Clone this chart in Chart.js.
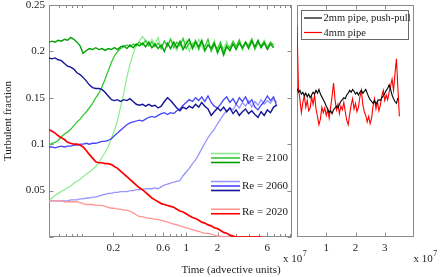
<!DOCTYPE html>
<html>
<head>
<meta charset="utf-8">
<script src="https://cdn.jsdelivr.net/npm/chart.js@4.4.0/dist/chart.umd.min.js"></script>
<style>
  html, body { margin: 0; padding: 0; background: #fff; }
  #wrap { position: relative; width: 440px; height: 277px; overflow: hidden; }
  canvas { position: absolute; top: 0; }
  #left { left: 0; }
  #right { left: 290px; }
</style>
</head>
<body>
<div id="wrap">
  <canvas id="left" width="310" height="277" style="width:310px;height:277px"></canvas>
  <canvas id="right" width="150" height="277" style="width:150px;height:277px"></canvas>
</div>
<script>
// ---- left panel: time (log axis) and turbulent fraction ----
const leftTimes = [0.048,0.0513,0.0550,0.0589,0.0631,0.0676,0.0724,0.0776,0.0832,0.0891,
  0.0955,0.102,0.110,0.117,0.126,0.135,0.145,0.155,0.166,0.178,
  0.191,0.204,0.219,0.234,0.251,0.269,0.288,0.309,0.331,0.355,
  0.380,0.407,0.437,0.468,0.501,0.537,0.575,0.617,0.661,0.708,
  0.759,0.813,0.871,0.933,1.00,1.07,1.15,1.23,1.32,1.41,
  1.51,1.62,1.74,1.86,2.00,2.14,2.29,2.45,2.63,2.82,
  3.02,3.24,3.47,3.72,3.98,4.27,4.57,4.90,5.25,5.62,
  6.03,6.46,6.92,7.41,7.94];

// Re = 2100
const green1 = [0.039,0.042,0.045,0.047,0.049,0.051,0.053,0.055,0.058,0.060,
  0.062,0.065,0.068,0.070,0.073,0.076,0.080,0.086,0.091,0.097,
  0.106,0.115,0.126,0.140,0.155,0.172,0.186,0.197,0.207,0.211,
  0.216,0.212,0.206,0.213,0.208,0.215,0.203,0.211,0.205,0.214,
  0.207,0.201,0.210,0.205,0.212,0.200,0.209,0.204,0.213,0.206,
  0.199,0.208,0.204,0.212,0.197,0.207,0.203,0.211,0.200,0.209,
  0.206,0.213,0.201,0.210,0.207,0.214,0.203,0.210,0.205,0.212,
  0.203,0.209,0.205];
const green2 = [0.099,0.101,0.102,0.104,0.108,0.111,0.113,0.116,0.120,0.124,
  0.127,0.131,0.135,0.139,0.144,0.150,0.155,0.162,0.170,0.179,
  0.188,0.195,0.200,0.203,0.205,0.207,0.205,0.208,0.206,0.210,
  0.207,0.212,0.206,0.210,0.205,0.209,0.203,0.211,0.206,0.213,
  0.204,0.210,0.206,0.214,0.203,0.209,0.206,0.212,0.202,0.210,
  0.205,0.213,0.200,0.207,0.203,0.210,0.199,0.207,0.204,0.211,
  0.205,0.212,0.203,0.209,0.206,0.213,0.202,0.209,0.206,0.211,
  0.204,0.210,0.207];
const green3 = [0.210,0.211,0.210,0.212,0.211,0.213,0.212,0.215,0.213,0.210,
  0.206,0.198,0.201,0.203,0.202,0.204,0.202,0.203,0.201,0.203,
  0.202,0.204,0.202,0.205,0.206,0.203,0.207,0.204,0.208,0.206,
  0.209,0.205,0.210,0.204,0.208,0.203,0.207,0.200,0.209,0.203,
  0.210,0.204,0.211,0.202,0.208,0.213,0.203,0.210,0.205,0.212,
  0.201,0.207,0.203,0.209,0.199,0.206,0.196,0.205,0.201,0.208,
  0.202,0.209,0.204,0.210,0.203,0.211,0.205,0.212,0.204,0.209,
  0.202,0.208,0.204];

// Re = 2060
const blue1 = [0.039,0.039,0.039,0.039,0.039,0.039,0.039,0.040,0.040,0.040,
  0.041,0.041,0.042,0.042,0.043,0.043,0.044,0.045,0.046,0.047,
  0.047,0.048,0.048,0.049,0.049,0.049,0.050,0.050,0.051,0.051,
  0.051,0.052,0.052,0.052,0.053,0.052,0.054,0.056,0.057,0.058,
  0.059,0.060,0.061,0.066,0.070,0.074,0.079,0.083,0.089,0.095,
  0.101,0.107,0.112,0.116,0.122,0.127,0.132,0.136,0.139,0.137,
  0.143,0.139,0.145,0.141,0.147,0.140,0.146,0.142,0.148,0.143,
  0.147,0.144,0.149,0.145];
const blue2 = [0.097,0.097,0.096,0.097,0.098,0.097,0.098,0.098,0.099,0.099,
  0.100,0.100,0.101,0.100,0.101,0.101,0.102,0.103,0.103,0.104,
  0.106,0.109,0.112,0.115,0.118,0.121,0.123,0.124,0.125,0.126,
  0.125,0.127,0.129,0.130,0.129,0.131,0.133,0.134,0.132,0.134,
  0.133,0.136,0.138,0.142,0.145,0.148,0.146,0.150,0.147,0.151,
  0.146,0.152,0.145,0.141,0.139,0.143,0.148,0.151,0.145,0.149,
  0.143,0.150,0.146,0.151,0.144,0.148,0.140,0.137,0.142,0.146,
  0.152,0.147,0.151,0.141];
const blue3 = [0.193,0.192,0.193,0.191,0.190,0.187,0.184,0.183,0.181,0.177,
  0.175,0.172,0.168,0.164,0.161,0.160,0.160,0.159,0.156,0.152,
  0.148,0.147,0.148,0.146,0.148,0.147,0.149,0.146,0.143,0.142,
  0.143,0.141,0.143,0.141,0.142,0.139,0.141,0.146,0.150,0.147,
  0.143,0.139,0.136,0.140,0.138,0.141,0.139,0.143,0.140,0.145,
  0.141,0.138,0.131,0.135,0.139,0.136,0.140,0.135,0.139,0.133,
  0.137,0.131,0.135,0.138,0.133,0.136,0.132,0.129,0.135,0.131,
  0.137,0.134,0.140,0.142];

// Re = 2020
const red1 = [0.039,0.039,0.039,0.039,0.039,0.038,0.038,0.038,0.038,0.038,
  0.037,0.036,0.035,0.035,0.035,0.034,0.034,0.034,0.033,0.032,
  0.031,0.031,0.030,0.030,0.029,0.029,0.028,0.026,0.024,0.022,
  0.022,0.021,0.020,0.020,0.019,0.019,0.018,0.017,0.016,0.015,
  0.014,0.013,0.012,0.011,0.010,0.009,0.008,0.007,0.006,0.005,
  0.004,0.004,0.003,0.002,0.001,0.001,0,0,0];
const red2 = [0.116,0.114,0.112,0.109,0.107,0.105,0.102,0.101,0.100,0.100,
  0.099,0.097,0.093,0.089,0.085,0.081,0.080,0.080,0.079,0.079,
  0.078,0.076,0.074,0.071,0.068,0.065,0.062,0.059,0.056,0.053,
  0.051,0.048,0.045,0.042,0.040,0.038,0.036,0.035,0.034,0.033,
  0.032,0.030,0.028,0.027,0.025,0.023,0.021,0.020,0.018,0.016,
  0.015,0.013,0.012,0.010,0.009,0.007,0.005,0.004,0.002,0.001,
  0,0,0,0,0,0,0,0,0];

const leftTickLabels = [0.2, 0.6, 1, 2, 6];
const leftMinorTicks = [0.06, 0.07, 0.08, 0.09, 0.1, 0.3, 0.4, 0.5, 0.7, 0.8, 0.9, 3, 4, 5, 7, 8, 9, 10];

// ---- right panel: pipe experiments (x 10^7) ----
const rightTimes = [0,0.05,0.1,0.15,0.2,0.25,0.3,0.35,0.4,0.45,0.5,0.55,0.6,0.65,0.7,0.75,0.8,0.85,0.9,0.95,
  1,1.05,1.1,1.15,1.2,1.25,1.3,1.35,1.4,1.45,1.5,1.55,1.6,1.65,1.7,1.75,1.8,1.85,1.9,1.95,
  2,2.05,2.1,2.15,2.2,2.25,2.3,2.35,2.4,2.45,2.5,2.55,2.6,2.65,2.7,2.75,2.8,2.85,2.9,2.95,
  3,3.05,3.1,3.15,3.2,3.25,3.3,3.35,3.4,3.45,3.5];
const pipe2mm = [0.160,0.156,0.158,0.154,0.156,0.152,0.155,0.151,0.154,0.150,
  0.153,0.156,0.154,0.158,0.155,0.159,0.154,0.151,0.148,0.145,
  0.141,0.138,0.134,0.136,0.133,0.137,0.139,0.141,0.139,0.143,
  0.146,0.148,0.150,0.149,0.153,0.155,0.158,0.156,0.159,0.157,
  0.154,0.156,0.153,0.156,0.158,0.155,0.157,0.159,0.155,0.151,
  0.148,0.146,0.144,0.147,0.143,0.146,0.148,0.147,0.150,0.152,
  0.155,0.158,0.160,0.164,0.159,0.153,0.149,0.146,0.144,0.150];
const pipe4mm = [0.228,0.160,0.148,0.134,0.145,0.152,0.140,0.147,0.136,0.139,
  0.151,0.143,0.153,0.138,0.130,0.121,0.127,0.140,0.134,0.139,
  0.131,0.137,0.128,0.140,0.152,0.166,0.148,0.137,0.143,0.133,
  0.141,0.137,0.145,0.135,0.126,0.121,0.132,0.142,0.149,0.138,
  0.144,0.135,0.140,0.151,0.158,0.143,0.135,0.131,0.124,0.130,
  0.122,0.128,0.141,0.149,0.138,0.146,0.136,0.142,0.152,0.158,
  0.147,0.153,0.148,0.156,0.163,0.170,0.158,0.176,0.192,0.160,
  0.130];
const rightTickLabels = [1, 2, 3];

// ---- styling ----
const serif = '"Liberation Serif", "Times New Roman", serif';
const textColor = '#1c1c1c';
const axisColor = '#8a8a8a';

const leftSeries = [
  { key: 'r2', values: red2,   color: 'rgb(255,0,0)',     width: 1.7 },
  { key: 'b3', values: blue3,  color: 'rgb(20,20,150)',   width: 1.4 },
  { key: 'g3', values: green3, color: 'rgb(0,160,0)',     width: 1.4 },
  { key: 'b2', values: blue2,  color: 'rgb(70,70,245)',   width: 1.3 },
  { key: 'g2', values: green2, color: 'rgb(50,200,50)',   width: 1.3 },
  { key: 'r1', values: red1,   color: 'rgb(255,150,150)', width: 1.3 },
  { key: 'b1', values: blue1,  color: 'rgb(150,150,255)', width: 1.3 },
  { key: 'g1', values: green1, color: 'rgb(140,235,140)', width: 1.2 }
];
const reGroups = [
  { label: 'Re = 2100', keys: ['g1', 'g2', 'g3'], y: 158 },
  { label: 'Re = 2060', keys: ['b1', 'b2', 'b3'], y: 186 },
  { label: 'Re = 2020', keys: ['r1', 'r2'], y: 211.5 }
];

function toPoints(xs, ys) {
  return ys.map((v, i) => ({ x: xs[i], y: v }));
}

// box with inward ticks, MATLAB style
const frameTicks = {
  id: 'frameTicks',
  beforeDatasetsDraw(chart, args, opts) {
    const ctx = chart.ctx;
    const a = chart.chartArea;
    const xs = chart.scales.x, ys = chart.scales.y;
    const L = Math.round(a.left) + 0.5, R = Math.round(a.right) - 0.5;
    const T = Math.round(a.top) + 0.5, B = Math.round(a.bottom) - 0.5;
    ctx.save();
    ctx.strokeStyle = axisColor;
    ctx.lineWidth = 1;
    ctx.strokeRect(L, T, R - L, B - T);
    ctx.beginPath();
    xs.ticks.forEach(t => {
      const px = Math.round(xs.getPixelForValue(t.value)) + 0.5;
      const len = t.label !== '' ? 4 : 2.5;
      ctx.moveTo(px, B); ctx.lineTo(px, B - len);
      ctx.moveTo(px, T); ctx.lineTo(px, T + len);
    });
    if (opts.yTicks) {
      ys.ticks.forEach(t => {
        const py = Math.round(ys.getPixelForValue(t.value)) + 0.5;
        ctx.moveTo(L, py); ctx.lineTo(L + 4, py);
        ctx.moveTo(R, py); ctx.lineTo(R - 4, py);
      });
    }
    ctx.stroke();
    ctx.restore();
  },
  afterDraw(chart, args, opts) {
    const ctx = chart.ctx;
    ctx.save();
    ctx.fillStyle = textColor;
    ctx.textBaseline = 'alphabetic';
    ctx.textAlign = 'left';
    ctx.font = '11px ' + serif;
    ctx.fillText('x 10', opts.expoX, 262);
    const w = ctx.measureText('x 10').width;
    ctx.font = '8px ' + serif;
    ctx.fillText('7', opts.expoX + w + 0.5, 256);
    if (opts.title) {
      ctx.font = '11px ' + serif;
      ctx.textAlign = 'center';
      ctx.textBaseline = 'middle';
      ctx.fillText(opts.title, opts.titleX, 270);
    }
    ctx.restore();
  }
};

const reLegend = {
  id: 'reLegend',
  afterDatasetsDraw(chart) {
    const ctx = chart.ctx;
    ctx.save();
    ctx.font = '11px ' + serif;
    ctx.fillStyle = textColor;
    ctx.textBaseline = 'middle';
    reGroups.forEach(g => {
      const n = g.keys.length;
      g.keys.forEach((k, j) => {
        const s = leftSeries.find(d => d.key === k);
        const yy = g.y + (j - (n - 1) / 2) * 4.5;
        ctx.strokeStyle = s.color;
        ctx.lineWidth = 1.6;
        ctx.beginPath();
        ctx.moveTo(211, yy); ctx.lineTo(240, yy);
        ctx.stroke();
      });
      ctx.fillText(g.label, 242, g.y + 0.5);
    });
    ctx.restore();
  }
};

const pipeLegend = {
  id: 'pipeLegend',
  afterDatasetsDraw(chart) {
    const ctx = chart.ctx;
    ctx.save();
    ctx.fillStyle = '#fff';
    ctx.fillRect(11, 10, 107, 29);
    ctx.strokeStyle = '#6a6a6a';
    ctx.lineWidth = 1;
    ctx.strokeRect(11.5, 10.5, 107, 29);
    ctx.font = '10.5px ' + serif;
    ctx.textBaseline = 'middle';
    chart.data.datasets.forEach((ds, i) => {
      const yy = 18 + i * 14.5;
      ctx.strokeStyle = ds.borderColor;
      ctx.lineWidth = 1.2;
      ctx.beginPath();
      ctx.moveTo(14, yy); ctx.lineTo(32, yy);
      ctx.stroke();
      ctx.fillStyle = textColor;
      ctx.fillText(ds.label, 33.5, yy + 0.5);
    });
    ctx.restore();
  }
};

const tickFont = { family: serif, size: 11 };

new Chart(document.getElementById('left'), {
  type: 'line',
  data: {
    datasets: leftSeries.map(s => ({
      label: s.key,
      data: toPoints(leftTimes, s.values),
      borderColor: s.color,
      borderWidth: s.width,
      pointRadius: 0,
      tension: 0,
      fill: false
    }))
  },
  options: {
    responsive: false,
    animation: false,
    events: [],
    parsing: false,
    layout: { padding: { left: 0, right: 18, top: 5, bottom: 0 } },
    plugins: {
      legend: { display: false },
      tooltip: { enabled: false },
      frameTicks: { yTicks: true, expoX: 283, title: 'Time (advective units)', titleX: 231 }
    },
    scales: {
      x: {
        type: 'logarithmic',
        min: 0.048,
        max: 10.4,
        grid: { display: false, drawTicks: false },
        border: { display: false },
        afterBuildTicks: scale => {
          scale.ticks = leftTickLabels.concat(leftMinorTicks).sort((p, q) => p - q).map(v => ({ value: v }));
        },
        ticks: {
          autoSkip: false,
          maxRotation: 0,
          padding: 5,
          font: tickFont,
          color: textColor,
          callback: v => leftTickLabels.includes(v) ? String(v) : ''
        },
        afterFit: scale => { scale.height = 40; scale.paddingLeft = 0; scale.paddingRight = 0; }
      },
      y: {
        min: 0,
        max: 0.25,
        grid: { display: false, drawTicks: false },
        border: { display: false },
        ticks: {
          stepSize: 0.05,
          padding: 4,
          font: tickFont,
          color: textColor,
          callback: v => v === 0 ? '' : String(+v.toFixed(2))
        },
        title: {
          display: true,
          text: 'Turbulent fraction',
          font: tickFont,
          color: textColor,
          padding: { top: 2, bottom: 0 }
        },
        afterFit: scale => { scale.width = 49; scale.paddingTop = 0; scale.paddingBottom = 0; }
      }
    }
  },
  plugins: [frameTicks, reLegend]
});

new Chart(document.getElementById('right'), {
  type: 'line',
  data: {
    datasets: [
      { label: '2mm pipe, push-pull', data: toPoints(rightTimes, pipe2mm), borderColor: '#000', borderWidth: 1.1, pointRadius: 0, tension: 0 },
      { label: '4mm pipe', data: toPoints(rightTimes, pipe4mm), borderColor: 'rgb(255,0,0)', borderWidth: 1.1, pointRadius: 0, tension: 0 }
    ]
  },
  options: {
    responsive: false,
    animation: false,
    events: [],
    parsing: false,
    layout: { padding: { left: 7, right: 26, top: 5, bottom: 0 } },
    plugins: {
      legend: { display: false },
      tooltip: { enabled: false },
      frameTicks: { yTicks: false, expoX: 123.5 }
    },
    scales: {
      x: {
        type: 'linear',
        min: 0,
        max: 4,
        grid: { display: false, drawTicks: false },
        border: { display: false },
        afterBuildTicks: scale => { scale.ticks = rightTickLabels.map(v => ({ value: v })); },
        ticks: { autoSkip: false, maxRotation: 0, padding: 5, font: tickFont, color: textColor },
        afterFit: scale => { scale.height = 40; scale.paddingLeft = 0; scale.paddingRight = 0; }
      },
      y: { display: false, min: 0, max: 0.25 }
    }
  },
  plugins: [frameTicks, pipeLegend]
});
</script>
</body>
</html>
